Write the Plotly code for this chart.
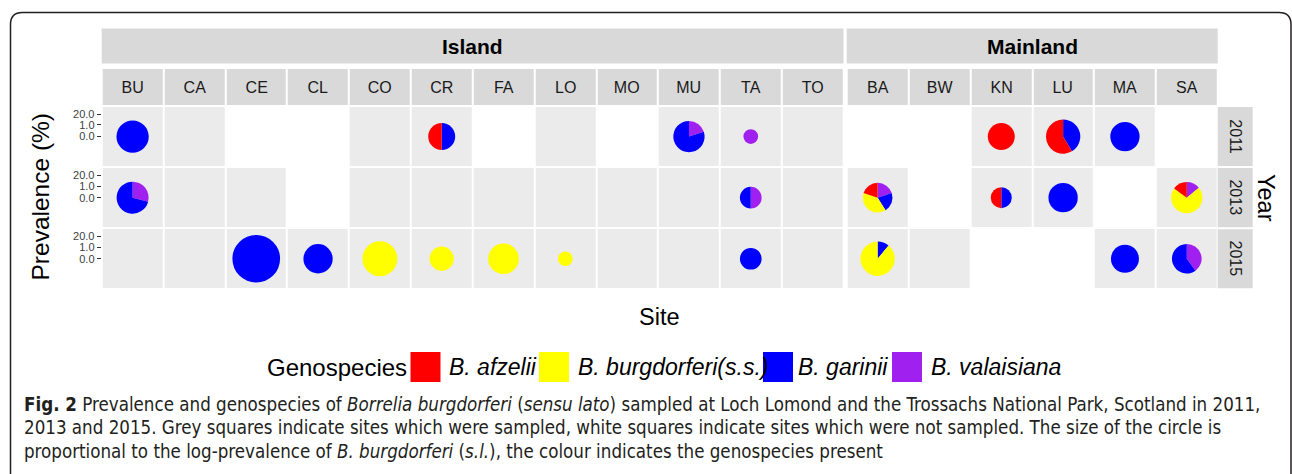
import plotly.graph_objects as go

# ---------------- data ----------------
island_sites = ["BU", "CA", "CE", "CL", "CO", "CR", "FA", "LO", "MO", "MU", "TA", "TO"]
mainland_sites = ["BA", "BW", "KN", "LU", "MA", "SA"]
years = [2011, 2013, 2015]

# sampled (1) / not sampled (0), rows follow `years`
island_sampled = [
    [1, 1, 0, 0, 1, 1, 0, 1, 0, 1, 1, 1],   # 2011
    [1, 1, 1, 0, 1, 1, 1, 1, 1, 1, 1, 1],   # 2013
    [1, 1, 1, 1, 1, 1, 1, 1, 1, 1, 1, 1],   # 2015
]
mainland_sampled = [
    [0, 0, 1, 1, 1, 0],   # 2011
    [1, 0, 1, 1, 0, 1],   # 2013
    [1, 1, 0, 0, 1, 1],   # 2015
]

genospecies = ["B. afzelii", "B. burgdorferi(s.s.)", "B. garinii", "B. valaisiana"]
geno_colors = ["#FF0000", "#FFFF00", "#0000FF", "#A020F0"]

# positive sites
pos_site = ["BU", "CR", "MU", "TA", "KN", "LU", "MA",
            "BU", "TA", "BA", "KN", "LU", "SA",
            "CE", "CL", "CO", "CR", "FA", "LO", "TA", "BA", "MA", "SA"]
pos_year = [2011, 2011, 2011, 2011, 2011, 2011, 2011,
            2013, 2013, 2013, 2013, 2013, 2013,
            2015, 2015, 2015, 2015, 2015, 2015, 2015, 2015, 2015, 2015]
# relative log-prevalence (circle size)
log_prev = [3.23, 2.70, 3.13, 1.47, 2.70, 3.43, 2.93,
            3.20, 2.17, 2.97, 2.10, 2.93, 3.13,
            4.77, 2.93, 3.50, 2.43, 3.07, 1.47, 2.17, 3.43, 2.80, 2.97]
# genospecies proportions
afzelii = [0, 0.5, 0, 0, 1, 0.585, 0,
           0, 0, 0.2, 0.5, 0, 0.15,
           0, 0, 0, 0, 0, 0, 0, 0, 0, 0]
burgdorferi = [0, 0, 0, 0, 0, 0, 0,
               0, 0, 0.39, 0, 0, 0.71,
               0, 0, 1, 1, 1, 1, 0, 0.89, 0, 0]
garinii = [1, 0.5, 0.8, 0, 0, 0.415, 1,
           0.71, 0.5, 0.21, 0.5, 1, 0,
           1, 1, 0, 0, 0, 0, 1, 0.11, 1, 0.6]
valaisiana = [0, 0, 0.2, 1, 0, 0, 0,
              0.29, 0.5, 0.2, 0, 0, 0.14,
              0, 0, 0, 0, 0, 0, 0, 0, 0, 0.4]

# ---------------- layout geometry (pixels) ----------------
W, H = 1292, 474
def px(x): return x / W
def py(y): return 1 - y / H

ISL = (101.7, 843.5)
MAIN = (846.7, 1217.7)
PANEL = (106.0, 289.3)      # top, bottom
STRIP = (69.0, 105.3)
REGION = (28.5, 63.5)
YEARSTRIP = (1217.7, 1252.7)
SIZE_PX = 10.0              # px of diameter per unit of log-prevalence

STRIP_FILL = "#D9D9D9"
PANEL_FILL = "#EBEBEB"
FONT = "Liberation Sans, Arial, sans-serif"

nrow = len(years)
row_of_year = {y: nrow - 1 - i for i, y in enumerate(years)}   # 2011 on top

fig = go.Figure()

xdom1 = [px(ISL[0]), px(ISL[1])]
xdom2 = [px(MAIN[0]), px(MAIN[1])]
ydom = [py(PANEL[1]), py(PANEL[0])]
ydom_strip = [py(STRIP[1]), py(STRIP[0])]

xr1 = [-0.5, len(island_sites) - 0.5]
xr2 = [-0.5, len(mainland_sites) - 0.5]
yr = [-0.5, nrow - 0.5]

grey_scale = [[0, PANEL_FILL], [1, PANEL_FILL]]
strip_scale = [[0, STRIP_FILL], [1, STRIP_FILL]]

def zgrid(sampled):
    rows = [None] * nrow
    for i, y in enumerate(years):
        rows[row_of_year[y]] = [1 if v else None for v in sampled[i]]
    return rows

for sites, sampled, xa in [(island_sites, island_sampled, "x"), (mainland_sites, mainland_sampled, "x2")]:
    fig.add_trace(go.Heatmap(
        x=list(range(len(sites))), y=list(range(nrow)), z=zgrid(sampled),
        colorscale=grey_scale, showscale=False, xgap=2, ygap=2,
        hoverinfo="skip", xaxis=xa, yaxis="y"))
    fig.add_trace(go.Heatmap(
        x=list(range(len(sites))), y=[0], z=[[1] * len(sites)], text=[sites],
        texttemplate="%{text}", textfont=dict(size=16, color="#1A1A1A", family=FONT),
        colorscale=strip_scale, showscale=False, xgap=2, ygap=0,
        hoverinfo="skip", xaxis=xa, yaxis="y2"))

# pies
def to_paper_x(site):
    if site in island_sites:
        idx, dom, rng = island_sites.index(site), xdom1, xr1
    else:
        idx, dom, rng = mainland_sites.index(site), xdom2, xr2
    return dom[0] + (idx - rng[0]) / (rng[1] - rng[0]) * (dom[1] - dom[0])

def to_paper_y(year):
    r = row_of_year[year]
    return ydom[0] + (r - yr[0]) / (yr[1] - yr[0]) * (ydom[1] - ydom[0])

# ggplot-style polar stacking: clockwise from 12 o'clock, last level first
rev_labels = genospecies[::-1]
rev_colors = geno_colors[::-1]
for i in range(len(pos_site)):
    cx = to_paper_x(pos_site[i])
    cy = to_paper_y(pos_year[i])
    d = log_prev[i] * SIZE_PX
    hx, hy = d / 2 / W, d / 2 / H
    fig.add_trace(go.Pie(
        values=[valaisiana[i], garinii[i], burgdorferi[i], afzelii[i]],
        labels=rev_labels, marker=dict(colors=rev_colors, line=dict(width=0)),
        sort=False, direction="clockwise", rotation=0,
        textinfo="none", hoverinfo="label+percent", showlegend=False,
        domain=dict(x=[cx - hx, cx + hx], y=[cy - hy, cy + hy])))

# y ticks: 0.0, 1.0, 20.0 in each row
tickvals, ticktext = [], []
for r in range(nrow):
    for off, t in [(0.0, "0.0"), (0.19, "1.0"), (0.368, "20.0")]:
        tickvals.append(r + off)
        ticktext.append(t)

shapes = []
annotations = []

# region strips
for xa, name in [("x", "Island"), ("x2", "Mainland")]:
    shapes.append(dict(type="rect", xref=xa + " domain", yref="paper", x0=0, x1=1,
                       y0=py(REGION[1]), y1=py(REGION[0]), fillcolor=STRIP_FILL,
                       line=dict(width=0), layer="below"))
    annotations.append(dict(xref=xa + " domain", yref="paper", x=0.5,
                            y=py((REGION[0] + REGION[1]) / 2), xanchor="center", yanchor="middle",
                            text="<b>%s</b>" % name,
                            showarrow=False, font=dict(size=21, color="#000000", family=FONT)))

# year strips
for y in years:
    r = row_of_year[y]
    shapes.append(dict(type="rect", xref="paper", yref="y", x0=px(YEARSTRIP[0]), x1=px(YEARSTRIP[1]),
                       y0=r - 0.5 + 0.016, y1=r + 0.5 - 0.016, fillcolor=STRIP_FILL,
                       line=dict(width=0), layer="below"))
    annotations.append(dict(xref="paper", yref="y", x=px((YEARSTRIP[0] + YEARSTRIP[1]) / 2), y=r,
                            xanchor="center", yanchor="middle",
                            text=str(y), textangle=90, showarrow=False,
                            font=dict(size=16, color="#1A1A1A", family=FONT)))

# axis titles
annotations.append(dict(xref="paper", yref="paper", x=px((ISL[0] + MAIN[1]) / 2), y=py(316.5),
                        xanchor="center", yanchor="middle",
                        text="Site", showarrow=False, font=dict(size=23.5, color="#000", family=FONT)))
annotations.append(dict(xref="paper", yref="paper", x=px(40), y=py(197.5),
                        xanchor="center", yanchor="middle",
                        text="Prevalence (%)", textangle=-90, showarrow=False,
                        font=dict(size=24.5, color="#000", family=FONT)))
annotations.append(dict(xref="paper", yref="paper", x=px(1266), y=py(198),
                        xanchor="center", yanchor="middle",
                        text="Year", textangle=90, showarrow=False,
                        font=dict(size=23.5, color="#000", family=FONT)))

# legend (custom)
LEG_CY = 367.0
KEY = 30.0
annotations.append(dict(xref="paper", yref="paper", x=px(408.5), y=py(LEG_CY), xanchor="right",
                        yanchor="middle", text="Genospecies", showarrow=False,
                        font=dict(size=24, color="#000", family=FONT)))
key_x = [410.5, 539.0, 763.0, 892.0]
lab_x = [446.5, 575.5, 795.5, 928.5]
for k in range(len(genospecies)):
    shapes.append(dict(type="rect", xref="paper", yref="paper", x0=px(key_x[k]), x1=px(key_x[k] + KEY),
                       y0=py(LEG_CY + KEY / 2), y1=py(LEG_CY - KEY / 2), fillcolor=geno_colors[k],
                       line=dict(width=0)))
    annotations.append(dict(xref="paper", yref="paper", x=px(lab_x[k]), y=py(LEG_CY), xanchor="left",
                            yanchor="middle", text="<i>%s</i>" % genospecies[k], showarrow=False,
                            font=dict(size=23, color="#000", family=FONT)))

# caption
CAP_FONT = "Liberation Sans Narrow, DejaVu Sans Condensed, Roboto Condensed, sans-serif"
cap_lines = [
    "<b>Fig. 2</b> Prevalence and genospecies of <i>Borrelia burgdorferi</i> (<i>sensu lato</i>) sampled at Loch Lomond and the Trossachs National Park, Scotland in 2011,",
    "2013 and 2015. Grey squares indicate sites which were sampled, white squares indicate sites which were not sampled. The size of the circle is",
    "proportional to the log-prevalence of <i>B. burgdorferi</i> (<i>s.l.</i>), the colour indicates the genospecies present",
]
cap_y = [404, 427.5, 451]
for t, yy in zip(cap_lines, cap_y):
    annotations.append(dict(xref="paper", yref="paper", x=px(22), y=py(yy), xanchor="left", yanchor="middle",
                            text=t, showarrow=False, font=dict(size=18.6, color="#231F20", family=CAP_FONT)))

# frame (rounded box)
R = 12
fx0, fy0, fx1 = 10.5, 12.5, 1291
path = "M {a},{b} L {a},{c} Q {a},{d} {e},{d} L {f},{d} Q {g},{d} {g},{c} L {g},{b}".format(
    a=px(fx0), b=py(H + 5), c=py(fy0 + R), d=py(fy0), e=px(fx0 + R), f=px(fx1 - R), g=px(fx1))
shapes.append(dict(type="path", xref="paper", yref="paper", path=path,
                   line=dict(color="#231F20", width=1.5)))

fig.update_layout(
    width=W, height=H, margin=dict(l=0, r=0, t=0, b=0),
    paper_bgcolor="white", plot_bgcolor="white",
    showlegend=False, shapes=shapes, annotations=annotations,
    xaxis=dict(domain=xdom1, range=xr1, showticklabels=False, showgrid=False, zeroline=False,
               ticks="", anchor="y", fixedrange=True),
    xaxis2=dict(domain=xdom2, range=xr2, showticklabels=False, showgrid=False, zeroline=False,
                ticks="", anchor="y", fixedrange=True),
    yaxis=dict(domain=ydom, range=yr, tickvals=tickvals, ticktext=ticktext, ticks="outside",
               ticklen=4, tickcolor="#333333", tickwidth=1,
               tickfont=dict(size=11, color="#404040", family=FONT),
               showgrid=False, zeroline=False, anchor="x", fixedrange=True),
    yaxis2=dict(domain=ydom_strip, range=[-0.5, 0.5], showticklabels=False, showgrid=False,
                zeroline=False, ticks="", anchor="x", fixedrange=True),
)

fig.write_html("out.html", config={"displayModeBar": False},
               post_script="document.body.style.margin='0px';document.body.style.overflow='hidden';")
